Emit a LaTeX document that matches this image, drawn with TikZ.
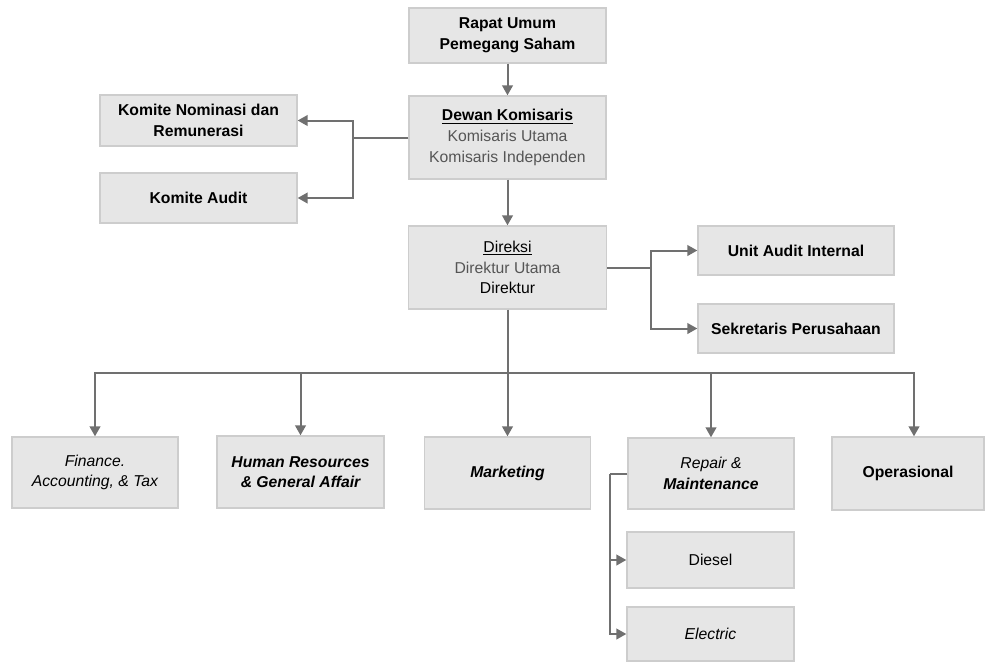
\documentclass[tikz,border=0pt]{standalone}
\usepackage{fontspec}
\setmainfont{Liberation Sans}
\usetikzlibrary{arrows.meta}
\definecolor{boxfill}{HTML}{E6E6E6}
\definecolor{boxline}{HTML}{CDCDCD}
\definecolor{conn}{HTML}{707070}
\definecolor{subtxt}{HTML}{555555}
\tikzset{
  x=0.75pt, y=-0.75pt,
  orgbox/.style={draw=boxline, fill=boxfill, line width=1pt, align=center, inner sep=2pt,
    font=\fontsize{11.8}{15.5}\selectfont},
  bx/.style 2 args={minimum width=#1*0.75pt, minimum height=#2*0.75pt},
  link/.style={draw=conn, line width=1.5pt},
  arr/.style={link, -{Triangle[length=7.5pt,width=8pt]}},
}
\begin{document}
\begin{tikzpicture}
\useasboundingbox (0,0) rectangle (986,662);
% nodes
\node[orgbox, bx={197}{55}] (rups) at (507.5,35.5) {\bfseries Rapat Umum\\\bfseries Pemegang Saham};
\node[orgbox, bx={197}{83}] (dewan) at (507.5,137.5) {\bfseries\underline{Dewan Komisaris}\\\color{subtxt}Komisaris Utama\\\color{subtxt}Komisaris Independen};
\node[orgbox, bx={197}{51}] (kn) at (198.5,120.5) {\bfseries Komite Nominasi dan\\\bfseries Remunerasi};
\node[orgbox, bx={197}{50}] (ka) at (198.5,198) {\bfseries Komite Audit};
\node[orgbox, bx={198}{83}] (direksi) at (507.5,267.5) {\underline{Direksi}\\\color{subtxt}Direktur Utama\\Direktur};
\node[orgbox, bx={196}{49}] (uai) at (796,250.5) {\bfseries Unit Audit Internal};
\node[orgbox, bx={196}{49}] (sek) at (796,328.5) {\bfseries Sekretaris Perusahaan};
\node[orgbox, bx={166}{71}] (fin) at (95,472.5) {\itshape Finance.\\\itshape Accounting, \& Tax};
\node[orgbox, bx={167}{72}] (hr) at (300.5,472) {\bfseries\itshape Human Resources\\\bfseries\itshape \& General Affair};
\node[orgbox, bx={166}{72}] (mkt) at (507.5,473) {\bfseries\itshape Marketing};
\node[orgbox, bx={166}{71}] (rep) at (711,473.5) {\itshape Repair \&\\\bfseries\itshape Maintenance};
\node[orgbox, bx={152}{73}] (ops) at (908,473.5) {\bfseries Operasional};
\node[orgbox, bx={167}{56}] (diesel) at (710.5,560) {Diesel};
\node[orgbox, bx={167}{54}] (elec) at (710.5,634) {\itshape Electric};
% junction coordinates
\coordinate (lb) at (353,137.5);
\coordinate (rb) at (651,267.5);
\coordinate (bus) at (507.5,373);
\coordinate (rpb) at (610,473.5);
% connectors
\draw[arr] (rups) -- (dewan);
\draw[arr] (dewan) -- (direksi);
\draw[link] (dewan.west) -- (lb);
\draw[arr] (lb) |- (kn.east);
\draw[arr] (lb) |- (ka.east);
\draw[link] (direksi.east) -- (rb);
\draw[arr] (rb) |- (uai.west);
\draw[arr] (rb) |- (sek.west);
\draw[link] (direksi.south) -- (bus);
\draw[arr] (bus) -| (fin.north);
\draw[arr] (bus) -| (hr.north);
\draw[arr] (bus) -- (mkt.north);
\draw[arr] (bus) -| (rep.north);
\draw[arr] (bus) -| ([xshift=4.5pt]ops.north);
\draw[link] (rep.west) -- (rpb);
\draw[arr] (rpb) |- (diesel.west);
\draw[arr] (rpb) |- (elec.west);
\end{tikzpicture}
\end{document}
